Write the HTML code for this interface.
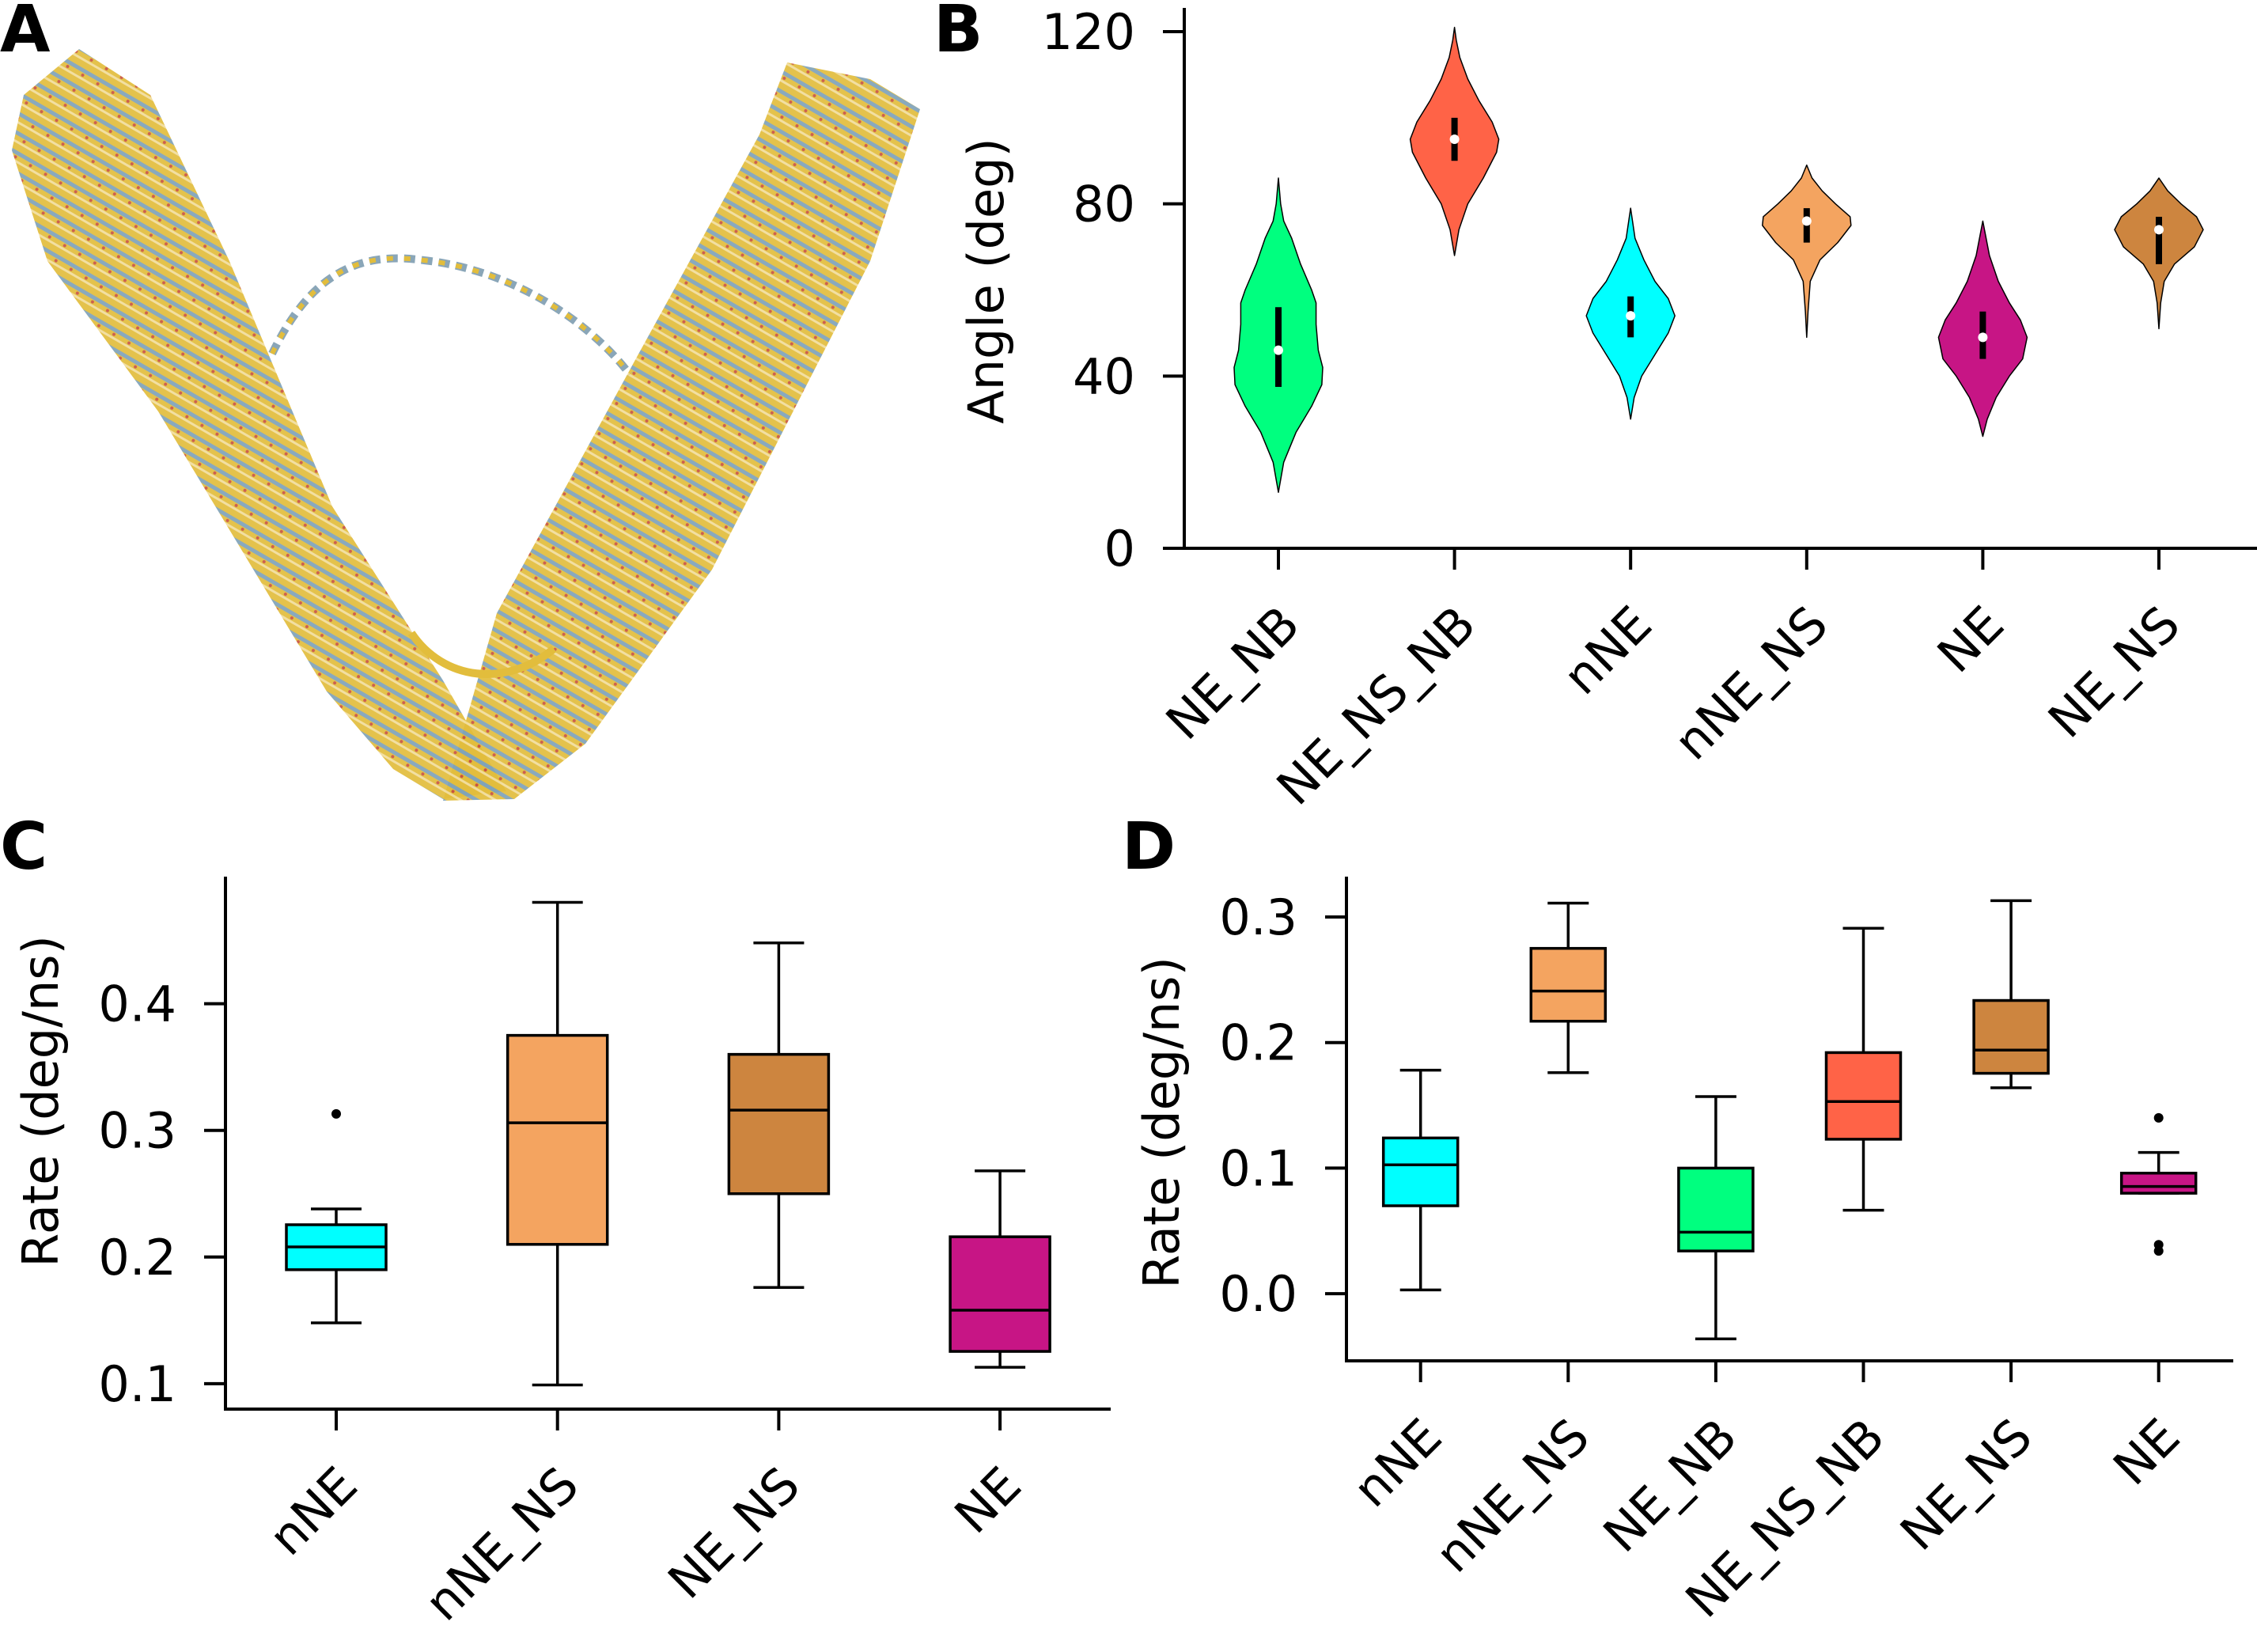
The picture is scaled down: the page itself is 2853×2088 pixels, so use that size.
<!DOCTYPE html>
<html><head><meta charset="utf-8"><style>
html,body{margin:0;padding:0;background:#fff;}
svg{display:block;font-family:"DejaVu Sans","Liberation Sans",sans-serif;}
</style></head><body>
<svg id="fig" xmlns="http://www.w3.org/2000/svg" width="2853" height="2088" viewBox="0 0 2853 2088">
<defs>
<pattern id="dna" width="22" height="22" patternUnits="userSpaceOnUse" patternTransform="rotate(30)">
<rect width="22" height="22" fill="#e2bd3c"/>
<rect y="0" width="22" height="5" fill="#7fa2b8"/>
<rect y="11" width="22" height="3" fill="#f1dc9a"/>
<circle cx="6" cy="8" r="2" fill="#c9523f"/>
</pattern>
</defs>
<g id="panelA">
<polygon points="15,190 30,120 100,62 190,120 290,330 420,640 560,860 640,1000 560,1010 497,972 413,874 200,520 60,330" fill="url(#dna)" opacity="0.92"/>
<polygon points="995,79 1100,100 1163,138 1100,330 900,720 740,940 650,1010 560,1012 628,775 804,453 960,170" fill="url(#dna)" opacity="0.92"/>
<path d="M344,447 C400,330 470,320 536,329 C640,340 740,400 796,473" fill="none" stroke="#8aa6b8" stroke-width="10" stroke-dasharray="14 8"/>
<path d="M344,447 C400,330 470,320 536,329 C640,340 740,400 796,473" fill="none" stroke="#e2bd3c" stroke-width="6" stroke-dasharray="8 14"/>
<path d="M520,800 C560,860 640,870 700,820" fill="none" stroke="#e2bd3c" stroke-width="10"/>
</g>
<g id="labels"></g>
<g id="B"></g><g id="C"></g><g id="D"></g>
</svg>
<script>
// ---------- Panel B data (violins) ----------
const bCategories = ["NE_NB","NE_NS_NB","nNE","nNE_NS","NE","NE_NS"];
const bColors = ["#00ff7f","#ff6347","#00ffff","#f4a460","#c71585","#cd853f"];
const bMedians = [46,95,54,76,49,74];
const bQ1 = [37.5,90,49,71,44,66];
const bQ3 = [56,100,58.5,79,55,77];
const bProfileAngles = [
 [13,20,27,33,38,42,46,52,57,60,66,72,76,80,86],
 [68,74,80,86,92,95,99,104,109,114,118,121],
 [30,35,40,45,50,54,58,62,67,72,79],
 [49,55,62,67,71,75,77,80,83,86,89],
 [26,30,35,40,44,49,53,57,62,68,76],
 [51,57,62,66,70,74,77,80,83,86]
];
const bProfileWidths = [
 [0,0.12,0.4,0.75,0.98,1.0,0.9,0.85,0.85,0.75,0.5,0.3,0.12,0.05,0],
 [0,0.1,0.3,0.65,0.95,1,0.85,0.55,0.3,0.12,0.04,0],
 [0,0.08,0.25,0.55,0.85,1,0.85,0.55,0.3,0.1,0],
 [0,0.03,0.08,0.3,0.7,1,0.98,0.65,0.35,0.12,0],
 [0,0.1,0.3,0.6,0.9,1,0.85,0.6,0.35,0.15,0],
 [0,0.04,0.12,0.35,0.8,1,0.85,0.5,0.2,0]
];
const bTicks = [0,40,80,120];

// ---------- Panel C data (boxes) ----------
const cCategories = ["nNE","nNE_NS","NE_NS","NE"];
const cColors = ["#00ffff","#f4a460","#cd853f","#c71585"];
const cWhiskLo = [0.148,0.099,0.176,0.113];
const cQ1 = [0.190,0.210,0.250,0.1255];
const cMed = [0.208,0.306,0.316,0.158];
const cQ3 = [0.2255,0.375,0.360,0.216];
const cWhiskHi = [0.238,0.480,0.448,0.268];
const cOutliers = [[0.313],[],[],[]];
const cTicks = [0.1,0.2,0.3,0.4];

// ---------- Panel D data (boxes) ----------
const dCategories = ["nNE","nNE_NS","NE_NB","NE_NS_NB","NE_NS","NE"];
const dColors = ["#00ffff","#f4a460","#00ff7f","#ff6347","#cd853f","#c71585"];
const dWhiskLo = [0.003,0.176,-0.036,0.0665,0.164,0.080];
const dQ1 = [0.070,0.217,0.034,0.123,0.1755,0.080];
const dMed = [0.1026,0.241,0.049,0.153,0.194,0.0854];
const dQ3 = [0.124,0.275,0.100,0.192,0.2335,0.096];
const dWhiskHi = [0.178,0.311,0.157,0.291,0.313,0.1125];
const dOutliers = [[],[],[],[],[],[0.14,0.039,0.034]];
const dTicks = ["0.0","0.1","0.2","0.3"];

const NS="http://www.w3.org/2000/svg";
function mk(parent,tag,attrs,text){const e=document.createElementNS(NS,tag);for(const k in attrs)e.setAttribute(k,attrs[k]);if(text!==undefined)e.textContent=text;parent.appendChild(e);return e;}
const FS=62;

function axes(g,o){
  // o: left,bottom,top,right,yScale,ticks,tickFmt,xs,cats,ylabel,ylabelX
  let e;
  e=mk(g,'line',{x1:o.left,y1:o.top,x2:o.left,y2:o.bottom+2,stroke:'#000','stroke-width':4});
  
  
  e=mk(g,'line',{x1:o.left-2,y1:o.bottom,x2:o.right,y2:o.bottom,stroke:'#000','stroke-width':4});
  
  
  o.ticks.forEach(t=>{
    const v=parseFloat(t), y=o.yScale(v);
    mk(g,'line',{x1:o.left-27,y1:y,x2:o.left,y2:y,stroke:'#000','stroke-width':4});
    e=mk(g,'text',{x:o.left-62,y:y+22,'text-anchor':'end','font-size':FS},String(t));
    
    
  });
  o.cats.forEach((c,i)=>{
    const x=o.xs(i);
    mk(g,'line',{x1:x,y1:o.bottom,x2:x,y2:o.bottom+27,stroke:'#000','stroke-width':4});
    const ax=x+30, ay=o.bottom+100;
    e=mk(g,'text',{x:ax,y:ay,'text-anchor':'end','font-size':FS,transform:`rotate(-45 ${ax} ${ay})`},c);
    
    
  });
  const lx=o.ylabelX, ly=o.ylabelY;
  e=mk(g,'text',{x:lx,y:ly,'text-anchor':'middle','font-size':FS,transform:`rotate(-90 ${lx} ${ly})`},o.ylabel);
  
  
}

// Panel B
(function(){
  const g=document.getElementById('B');
  const left=1497,bottom=693,top=10,right=2853;
  const y=v=>bottom-(v/120)*(bottom-40);
  const xs=i=>1616+i*222.6;
  axes(g,{left,bottom,top,right,yScale:y,ticks:bTicks,xs,cats:bCategories,ylabel:'Angle (deg)',ylabelX:1268,ylabelY:355});
  const W=56;
  bCategories.forEach((c,i)=>{
    const cx=xs(i), A=bProfileAngles[i], Wd=bProfileWidths[i];
    let pts=[];
    for(let k=0;k<A.length;k++)pts.push([cx+Wd[k]*W,y(A[k])]);
    for(let k=A.length-1;k>=0;k--)pts.push([cx-Wd[k]*W,y(A[k])]);
    let e=mk(g,'polygon',{points:pts.map(p=>p.join(',')).join(' '),fill:bColors[i],stroke:'#000','stroke-width':1.5,'stroke-linejoin':'round'});
    
    
    e=mk(g,'line',{x1:cx,y1:y(bQ1[i]),x2:cx,y2:y(bQ3[i]),stroke:'#000','stroke-width':8});
    
    
    e=mk(g,'circle',{cx:cx,cy:y(bMedians[i]),r:6,fill:'#fff'});
    
    
  });
})();

function boxPanel(gid,o,cats,colors,lo,q1,med,q3,hi,outs){
  const g=document.getElementById(gid);
  axes(g,o);
  cats.forEach((c,i)=>{
    const cx=o.xs(i), y=o.yScale;
    let e;
    mk(g,'line',{x1:cx,y1:y(hi[i]),x2:cx,y2:y(q3[i]),stroke:'#000','stroke-width':3.5});
    mk(g,'line',{x1:cx,y1:y(q1[i]),x2:cx,y2:y(lo[i]),stroke:'#000','stroke-width':3.5});
    e=mk(g,'line',{x1:cx-o.cap,y1:y(hi[i]),x2:cx+o.cap,y2:y(hi[i]),stroke:'#000','stroke-width':3.5});
    
    
    e=mk(g,'line',{x1:cx-o.cap,y1:y(lo[i]),x2:cx+o.cap,y2:y(lo[i]),stroke:'#000','stroke-width':3.5});
    
    
    e=mk(g,'rect',{x:cx-o.bw,y:y(q3[i]),width:2*o.bw,height:y(q1[i])-y(q3[i]),fill:colors[i],stroke:'#000','stroke-width':3.5});
    
    
    e=mk(g,'line',{x1:cx-o.bw,y1:y(med[i]),x2:cx+o.bw,y2:y(med[i]),stroke:'#000','stroke-width':3.5});
    
    
    outs[i].forEach(v=>{
      e=mk(g,'circle',{cx:cx,cy:y(v),r:6,fill:'#000'});
      
      
    });
  });
}

boxPanel('C',{left:285,bottom:1781,top:1108,right:1404,
  yScale:v=>1748.9-(v-0.1)*1601,ticks:cTicks,xs:i=>425+i*279.7,cats:cCategories,
  ylabel:'Rate (deg/ns)',ylabelX:73,ylabelY:1392,cap:32,bw:63},
  cCategories,cColors,cWhiskLo,cQ1,cMed,cQ3,cWhiskHi,cOutliers);

boxPanel('D',{left:1702,bottom:1720,top:1108,right:2823,
  yScale:v=>1635.1-v*1587,ticks:dTicks,xs:i=>1795.7+i*186.6,cats:dCategories,
  ylabel:'Rate (deg/ns)',ylabelX:1490,ylabelY:1419,cap:26,bw:47},
  dCategories,dColors,dWhiskLo,dQ1,dMed,dQ3,dWhiskHi,dOutliers);

// panel letters
const L=document.getElementById('labels');
[['A',0,65],['B',1180,65],['C',0,1098],['D',1418,1098]].forEach(a=>{
  const e=mk(L,'text',{x:a[1],y:a[2],'font-size':82,'font-weight':'bold'},a[0]);
  
  
});
</script>
</body></html>
